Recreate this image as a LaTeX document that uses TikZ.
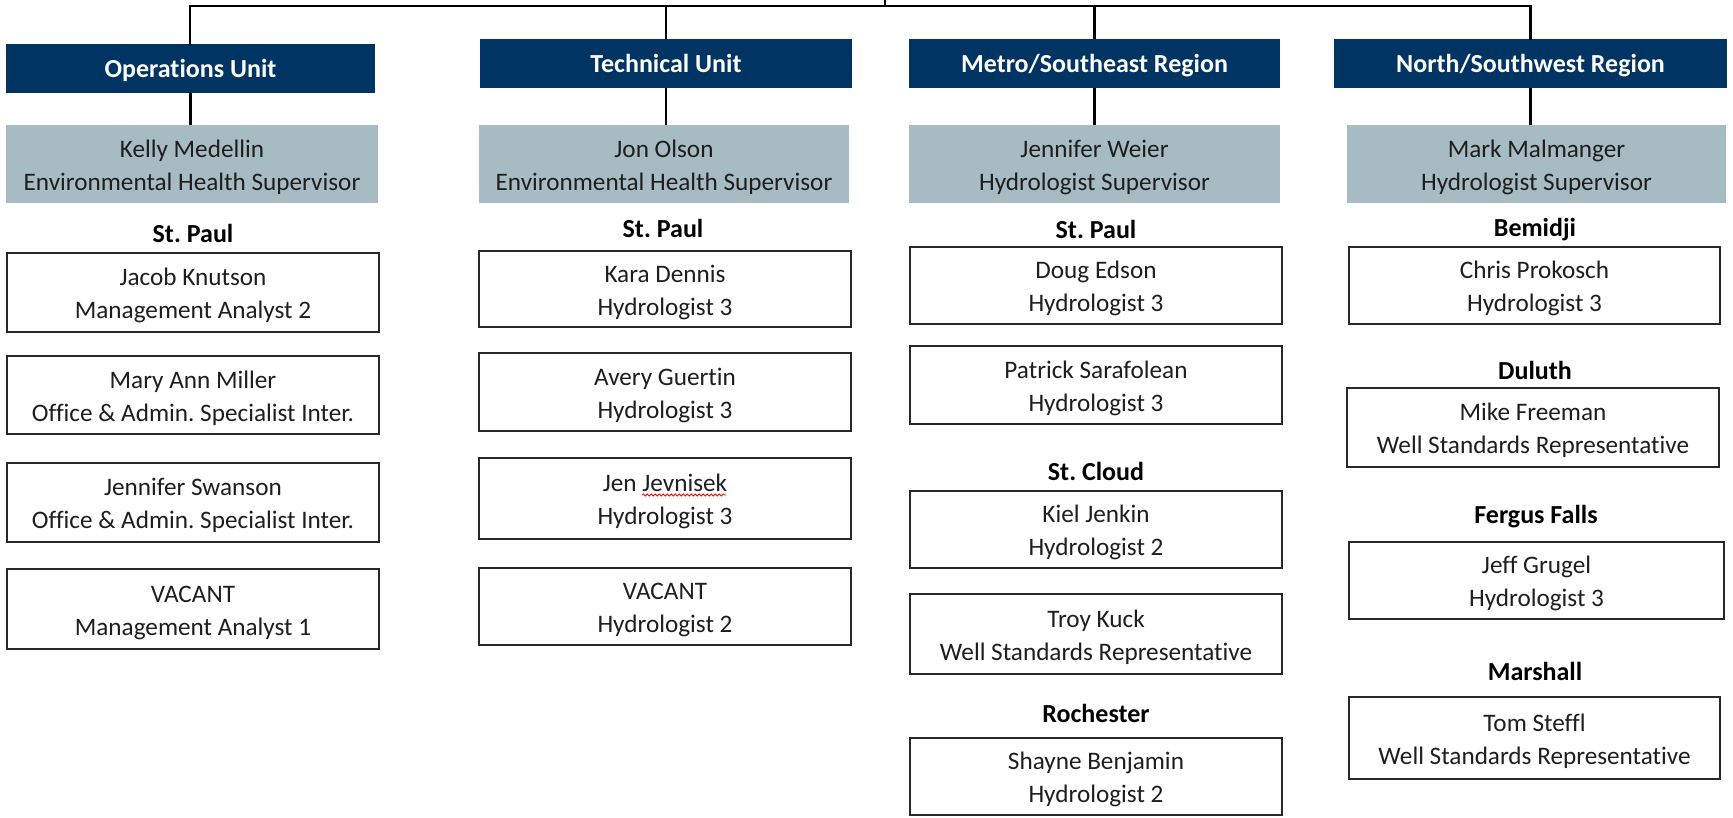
\documentclass[tikz,border=0pt]{standalone}
\usepackage{fontspec}
\setmainfont{Carlito}[Ligatures=NoCommon]
\usetikzlibrary{decorations.pathmorphing}
\definecolor{navy}{RGB}{0,52,98}
\definecolor{supfill}{RGB}{167,187,194}
\definecolor{boxline}{RGB}{40,40,40}
\definecolor{txt}{RGB}{30,30,30}
\frenchspacing
\begin{document}
\begin{tikzpicture}[x=1pt,y=-1pt,
  hdr/.style={fill=navy,text=white,font=\fontsize{26}{30}\selectfont\bfseries,inner sep=0pt,minimum height=49pt,text height=23pt,text depth=5.5pt},
  twoline/.style={text height=58pt,text depth=6pt},
  supbox/.style={twoline,fill=supfill,text=txt,align=center,font=\fontsize{25.2}{32.5}\selectfont,inner sep=0pt,minimum height=78pt},
  staff/.style={twoline,draw=boxline,line width=1.6pt,fill=white,text=txt,align=center,font=\fontsize{25.2}{33}\selectfont,inner sep=0pt},
  loc/.style={text=black,font=\fontsize{26}{30}\selectfont\bfseries,inner sep=0pt},
  conn/.style={draw=black,line width=2.6pt}]
\useasboundingbox (0,0) rectangle (1733,817);

% headers
\node[hdr,minimum width=369pt] (opsH) at (190.5,68.5) {Operations Unit};
\node[hdr,minimum width=372pt] (techH) at (666,63.5) {Technical Unit};
\node[hdr,minimum width=371pt] (metroH) at (1094.5,63.5) {Metro/Southeast Region};
\node[hdr,minimum width=393pt] (northH) at (1530.5,63.5) {North/Southwest Region};

% supervisors
\node[supbox,minimum width=372pt] (opsS) at (192,164) {Kelly Medellin\\Environmental Health Supervisor};
\node[supbox,minimum width=370pt] (techS) at (664,164) {Jon Olson\\Environmental Health Supervisor};
\node[supbox,minimum width=371pt] (metroS) at (1094.5,164) {Jennifer Weier\\Hydrologist Supervisor};
\node[supbox,minimum width=379pt] (northS) at (1536.5,164) {Mark Malmanger\\Hydrologist Supervisor};

% connectors
\coordinate (root) at (885,0);
\coordinate (bus) at (885,6);
\draw[conn] (root) -- (bus);
\draw[conn,line cap=rect] (opsH.north -| 190,0) |- (bus) -| (northH.north);
\draw[conn] (techH.north) -- (techH.north |- bus);
\draw[conn] (metroH.north) -- (metroH.north |- bus);
\draw[conn] (opsH.south) -- (opsH.south |- opsS.north);
\draw[conn] (techH.south) -- (techH.south |- techS.north);
\draw[conn] (metroH.south) -- (metroH.south |- metroS.north);
\draw[conn] (northH.south) -- (northH.south |- northS.north);

% Operations column
\node[loc] (opsL1) at (193,233) {St. Paul};
\node[staff,minimum width=372pt,minimum height=79pt] (o1) at (193,292.5) {Jacob Knutson\\Management Analyst 2};
\node[staff,minimum width=372pt,minimum height=78pt] (o2) at (193,395) {Mary Ann Miller\\Office \& Admin. Specialist Inter.};
\node[staff,minimum width=372pt,minimum height=79pt] (o3) at (193,502.5) {Jennifer Swanson\\Office \& Admin. Specialist Inter.};
\node[staff,minimum width=372pt,minimum height=80pt] (o4) at (193,609) {VACANT\\Management Analyst 1};

% Technical column
\node[loc] (techL1) at (663,228) {St. Paul};
\node[staff,minimum width=372pt,minimum height=76pt] (t1) at (665,289) {Kara Dennis\\Hydrologist 3};
\node[staff,minimum width=372pt,minimum height=78pt] (t2) at (665,392) {Avery Guertin\\Hydrologist 3};
\node[staff,minimum width=372pt,minimum height=81pt] (t3) at (665,498.5) {Jen Jevnisek\\Hydrologist 3};
\node[staff,minimum width=372pt,minimum height=77pt] (t4) at (665,606.5) {VACANT\\Hydrologist 2};
\draw[red,line width=0.8pt,decorate,decoration={snake,amplitude=1.1pt,segment length=4pt}] (642,495) -- (726,495);

% Metro column
\node[loc] (metroL1) at (1096,229) {St. Paul};
\node[staff,minimum width=372pt,minimum height=77pt] (m1) at (1096,285.5) {Doug Edson\\Hydrologist 3};
\node[staff,minimum width=372pt,minimum height=78pt] (m2) at (1096,385) {Patrick Sarafolean\\Hydrologist 3};
\node[loc] (metroL2) at (1096,471) {St. Cloud};
\node[staff,minimum width=372pt,minimum height=77pt] (m3) at (1096,529.5) {Kiel Jenkin\\Hydrologist 2};
\node[staff,minimum width=372pt,minimum height=80pt] (m4) at (1096,634) {Troy Kuck\\Well Standards Representative};
\node[loc] (metroL3) at (1096,713) {Rochester};
\node[staff,minimum width=372pt,minimum height=77pt] (m5) at (1096,776.5) {Shayne Benjamin\\Hydrologist 2};

% North column
\node[loc] (northL1) at (1535,230) {Bemidji};
\node[staff,minimum width=371pt,minimum height=77pt] (n1) at (1534.5,285.5) {Chris Prokosch\\Hydrologist 3};
\node[loc] (northL2) at (1535,370) {Duluth};
\node[staff,minimum width=372pt,minimum height=79pt] (n2) at (1533,427.5) {Mike Freeman\\Well Standards Representative};
\node[loc] (northL3) at (1536,517) {Fergus Falls};
\node[staff,minimum width=375pt,minimum height=77pt] (n3) at (1536.5,580.5) {Jeff Grugel\\Hydrologist 3};
\node[loc] (northL4) at (1535,671) {Marshall};
\node[staff,minimum width=371pt,minimum height=82pt] (n4) at (1534.5,738) {Tom Steffl\\Well Standards Representative};
\end{tikzpicture}
\end{document}
